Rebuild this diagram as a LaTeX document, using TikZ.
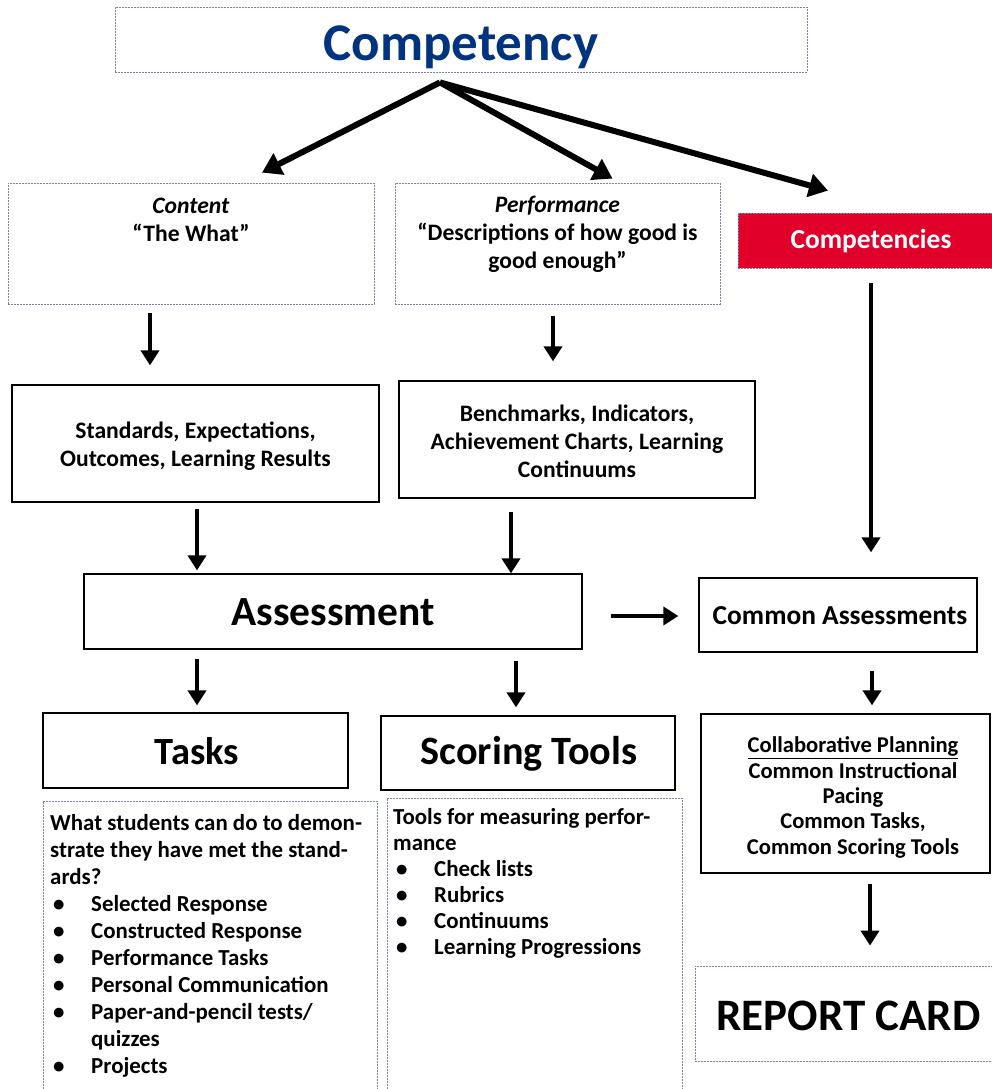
\documentclass[tikz,border=0pt]{standalone}
\usepackage{fontspec}
\setmainfont{Carlito}
\usetikzlibrary{arrows.meta,calc}
\definecolor{dashc}{RGB}{120,132,155}
\definecolor{titleblue}{RGB}{0,51,128}
\definecolor{cred}{RGB}{224,0,42}
\begin{document}
\begin{tikzpicture}[x=1pt,y=-1pt,
  dbox/.style={draw=dashc, line width=0.8pt, dash pattern=on 2pt off 1pt, inner sep=0pt},
  sbox/.style={draw=black, line width=1.3pt, inner sep=0pt},
  redbox/.style={draw=dashc, fill=cred, line width=0.8pt, dash pattern=on 2pt off 1pt, inner sep=0pt},
  txt/.style={font=\fontsize{23.6}{28}\selectfont\bfseries, align=center, inner sep=0pt},
  listtxt/.style={font=\fontsize{22.9}{27}\selectfont\bfseries, align=left, inner sep=0pt, anchor=north west},
  arr/.style={line width=4.5pt, -{Triangle[length=15pt,width=18pt]}},
  darr/.style={line width=6pt, -{Triangle[length=19pt,width=23pt]}}
]
\useasboundingbox (0,0) rectangle (992,1089);
\fill[white] (0,0) rectangle (992,1089);

% boxes
\node[dbox, minimum width=692, minimum height=65] (comp) at (461,39.5) {};
\node[dbox, minimum width=366, minimum height=121] (content) at (191,243.5) {};
\node[dbox, minimum width=325, minimum height=121] (perf) at (557.5,243.5) {};
\node[redbox, minimum width=266, minimum height=55] (compts) at (871,240.5) {};
\node[sbox, minimum width=367, minimum height=117] (std) at (195.5,443.5) {};
\node[sbox, minimum width=356, minimum height=117] (bench) at (577,439.5) {};
\node[sbox, minimum width=498, minimum height=75] (assess) at (333,611.5) {};
\node[sbox, minimum width=278, minimum height=74] (cass) at (838,615) {};
\node[sbox, minimum width=305, minimum height=75] (tasks) at (195.5,750.5) {};
\node[sbox, minimum width=294, minimum height=74] (scoring) at (528,753) {};
\node[sbox, minimum width=289, minimum height=159] (collab) at (845.5,793.5) {};
\node[dbox, minimum width=307, minimum height=95] (report) at (848.5,1013.5) {};
\node[dbox, minimum width=334, minimum height=300] (tdesc) at (210,951) {};
\node[dbox, minimum width=295, minimum height=300] (sdesc) at (534.5,948) {};

% texts
\node[text=titleblue, font=\fontsize{53}{60}\selectfont\bfseries, inner sep=0pt, anchor=base] (compT) at (461,61) {Competency};
\node[txt] (contentT) at (191,219.5) {\textit{Content}\\“The What”};
\node[txt] (perfT) at (557.5,234.5) {\textit{Performance}\\“Descriptions of how good is\\good enough”};
\node[txt, text=white, font=\fontsize{27.5}{32}\selectfont\bfseries] (comptsT) at (871,241) {Competencies};
\node[txt] (stdT) at (195.5,446) {Standards, Expectations,\\Outcomes, Learning Results};
\node[txt] (benchT) at (577,441.5) {Benchmarks, Indicators,\\Achievement Charts, Learning\\Continuums};
\node[txt, font=\fontsize{41.5}{48}\selectfont\bfseries] (assessT) at (333,612) {Assessment};
\node[txt, font=\fontsize{27.4}{32}\selectfont\bfseries] (cassT) at (840,616) {Common Assessments};
\node[txt, font=\fontsize{38.5}{46}\selectfont\bfseries] (tasksT) at (197,751) {Tasks};
\node[txt, font=\fontsize{40.2}{46}\selectfont\bfseries] (scoringT) at (529,754) {Scoring Tools};
\node[txt, font=\fontsize{22.6}{25.3}\selectfont\bfseries] (collabT) at (853,797.5) {\underline{Collaborative Planning}\\Common Instructional\\Pacing\\Common Tasks,\\Common Scoring Tools};
\node[txt, font=\fontsize{45}{50}\selectfont\bfseries] (reportT) at (848.5,1016) {REPORT CARD};

\node[listtxt] (tdescT) at (50,814) {What students can do to demon-\\strate they have met the stand-\\ards?\\
\makebox[41pt][l]{\hspace{3pt}\textbullet}Selected Response\\
\makebox[41pt][l]{\hspace{3pt}\textbullet}Constructed Response\\
\makebox[41pt][l]{\hspace{3pt}\textbullet}Performance Tasks\\
\makebox[41pt][l]{\hspace{3pt}\textbullet}Personal Communication\\
\makebox[41pt][l]{\hspace{3pt}\textbullet}Paper-and-pencil tests/\\
\hspace*{41pt}quizzes\\
\makebox[41pt][l]{\hspace{3pt}\textbullet}Projects};

\node[listtxt, font=\fontsize{22.9}{26}\selectfont\bfseries] (sdescT) at (393,808.5) {Tools for measuring perfor-\\mance\\
\makebox[41pt][l]{\hspace{3pt}\textbullet}Check lists\\
\makebox[41pt][l]{\hspace{3pt}\textbullet}Rubrics\\
\makebox[41pt][l]{\hspace{3pt}\textbullet}Continuums\\
\makebox[41pt][l]{\hspace{3pt}\textbullet}Learning Progressions};

% arrows
\coordinate (hub) at ($(comp.south)+(-21,10)$);
\draw[darr] (hub) -- ($(content.north)+(71,-10)$);
\draw[darr] (hub) -- ($(perf.north)+(55,-4)$);
\draw[darr] (hub) -- ($(compts.north)+(-43,-22)$);
\draw[arr] ($(content.south)+(-41,9)$) -- ($(std.north)+(-45.5,-19)$);
\draw[arr] ($(perf.south)+(-4.5,12)$) -- ($(bench.north)+(-24,-19)$);
\draw[arr] ($(std.south)+(1.5,6)$) -- ($(assess.north)+(-136,-3)$);
\draw[arr] ($(bench.south)+(-66,13)$) -- ($(assess.north)+(178,0)$);
\draw[arr] ($(compts.south)+(0,15)$) -- ($(cass.north)+(33,-25)$);
\draw[arr] ($(assess.east)+(28,4.5)$) -- ($(cass.west)+(-20,1)$);
\draw[arr] ($(assess.south)+(-136,9)$) -- ($(tasks.north)+(1.5,-7)$);
\draw[arr] ($(assess.south)+(183,11)$) -- ($(scoring.north)+(-12,-8)$);
\draw[arr] ($(cass.south)+(34,18)$) -- ($(collab.north)+(26.5,-8)$);
\draw[arr] ($(collab.south)+(24.5,10)$) -- ($(report.north)+(21.5,-20)$);
\end{tikzpicture}
\end{document}
